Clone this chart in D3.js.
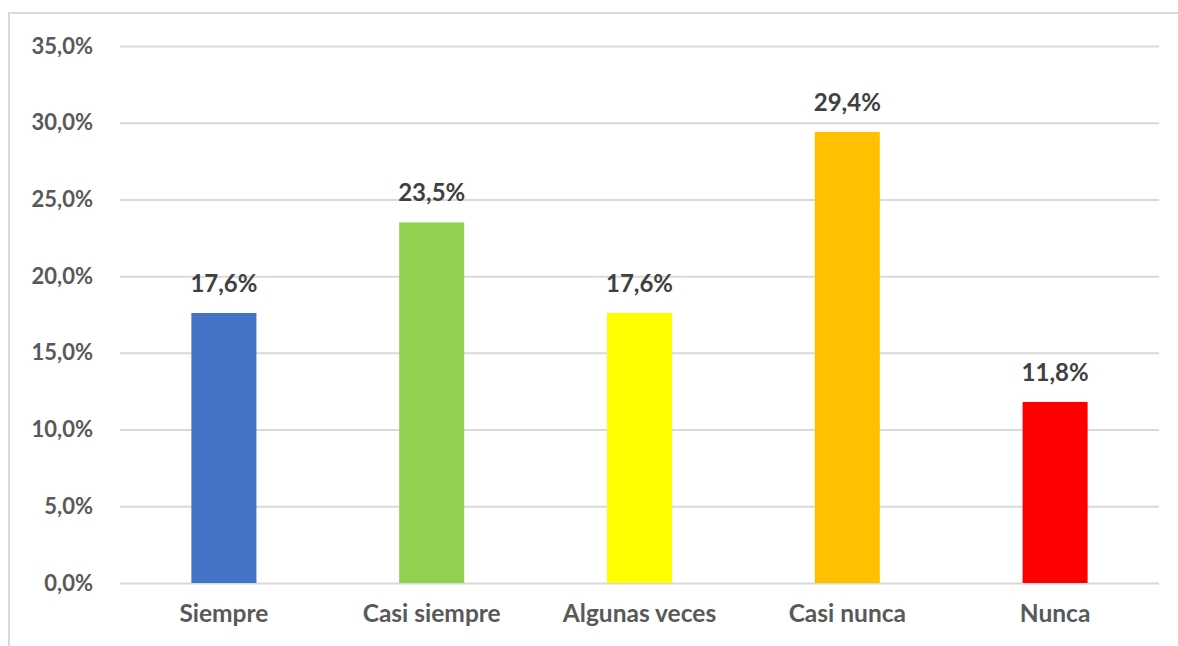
<!DOCTYPE html>
<html lang="es">
<head>
<meta charset="UTF-8">
<title>Gráfica</title>
<script src="https://d3js.org/d3.v7.min.js"></script>
<style>
  body { margin: 0; background: #fff; }
  svg text { font-family: Lato, "Open Sans", sans-serif; font-weight: bold; }
</style>
</head>
<body>
<script>
// datos
var categories = ["Siempre", "Casi siempre", "Algunas veces", "Casi nunca", "Nunca"];
var values = [0.176, 0.235, 0.176, 0.294, 0.118];
var colors = ["#4472C4", "#92D050", "#FFFF00", "#FFC000", "#FF0000"];
var yTicks = [0, 0.05, 0.10, 0.15, 0.20, 0.25, 0.30, 0.35];

var W = 1178, H = 646;
var margin = {top: 46, right: 19, bottom: 63, left: 120};
var w = W - margin.left - margin.right,
    h = H - margin.top - margin.bottom;

var pct = function(v) { return d3.format(".1%")(v).replace(".", ","); };

var svg = d3.select("body").append("svg")
  .attr("width", W).attr("height", H);

// marco
svg.append("rect")
  .attr("x", 9).attr("y", 13)
  .attr("width", W + 10).attr("height", H + 10)
  .attr("fill", "none").attr("stroke", "#d9d9d9").attr("stroke-width", 2);

var g = svg.append("g").attr("transform", "translate(" + margin.left + "," + margin.top + ")");

var x = d3.scaleBand().domain(categories).range([0, w]).padding(0);
var y = d3.scaleLinear().domain([0, 0.35]).range([h, 0]);
var barW = x.bandwidth() * 0.313;

// rejilla
var grid = g.append("g")
  .call(d3.axisLeft(y).tickValues(yTicks).tickSize(-w).tickFormat(""));
grid.select(".domain").remove();
grid.selectAll(".tick line").attr("stroke", "#d9d9d9").attr("stroke-width", 2);

// eje y
var yAxis = g.append("g")
  .call(d3.axisLeft(y).tickValues(yTicks).tickSize(0).tickPadding(27).tickFormat(pct));
yAxis.select(".domain").remove();
yAxis.selectAll("text").attr("fill", "#595959").style("font-size", "22px");

// eje x
var xAxis = g.append("g")
  .attr("transform", "translate(0," + h + ")")
  .call(d3.axisBottom(x).tickSize(0).tickPadding(22));
xAxis.select(".domain").remove();
xAxis.selectAll("text").attr("fill", "#595959").style("font-size", "24.5px");

// barras
g.selectAll(".bar")
  .data(values)
  .enter().append("rect")
  .attr("class", "bar")
  .attr("x", function(d, i) { return x(categories[i]) + (x.bandwidth() - barW) / 2; })
  .attr("width", barW)
  .attr("y", function(d) { return y(d); })
  .attr("height", function(d) { return h - y(d); })
  .attr("fill", function(d, i) { return colors[i]; });

// etiquetas
g.selectAll(".label")
  .data(values)
  .enter().append("text")
  .attr("class", "label")
  .attr("x", function(d, i) { return x(categories[i]) + x.bandwidth() / 2; })
  .attr("y", function(d) { return y(d) - 21; })
  .attr("text-anchor", "middle")
  .attr("fill", "#404040")
  .style("font-size", "24px")
  .text(pct);
</script>
</body>
</html>
